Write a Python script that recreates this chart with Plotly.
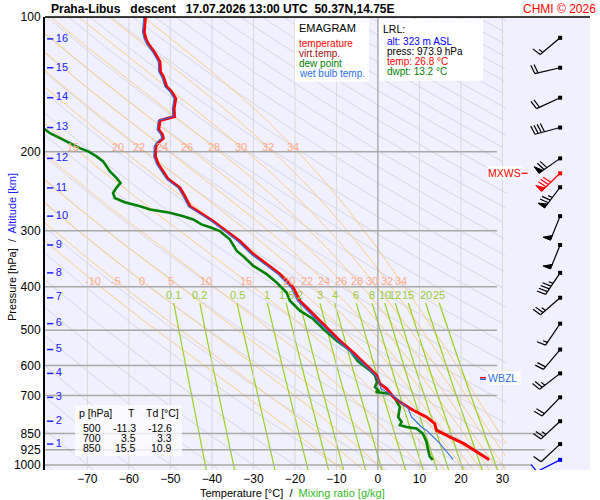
import numpy as np
import plotly.graph_objects as go

# ── layout constants ──────────────────────────────────────────────────────
W, H = 600, 500
ML, MR, MT, MB = 45, 10, 15, 30
T_MIN, T_MAX = -80.2, 51.1
P_BOT, P_TOP = 1026.0, 100.0
PW, PH = W - ML - MR, H - MT - MB
PX_PER_C = PW / (T_MAX - T_MIN)
PX_PER_DEC = PH / (np.log10(P_BOT) - np.log10(P_TOP))

# ── sounding (hPa, °C) ────────────────────────────────────────────────────
t_p = [100, 108, 111.9, 114.8, 119.6, 125.9, 132.5, 135.9, 143.0, 146.8, 152.1,
       160.1, 166.8, 170.2, 178.3, 183.0, 186.7, 190.5, 194.5, 204.7, 213.2,
       221.0, 230.2, 240.7, 251.2, 264.4, 273.6, 285.5, 300.5, 316.2, 338.5,
       356.3, 375.0, 401.7, 429.9, 460.2, 492.8, 527.6, 560.1, 599.5, 631.0,
       658.4, 675.5, 705.1, 723.4, 754.8, 781.1, 807.9, 836.1, 865.2, 894.9,
       934.1, 973.9]
t_c = [-56.0, -56.3, -55.9, -55.3, -53.9, -52.5, -52.4, -51.7, -50.9, -49.7, -48.7,
       -49.1, -49.0, -52.5, -52.8, -51.9, -51.7, -52.9, -53.5, -53.6, -52.9,
       -51.7, -50.5, -47.7, -46.5, -45.3, -42.9, -39.7, -36.5, -33.3, -30.0,
       -26.8, -23.6, -20.4, -18.8, -15.6, -12.4, -9.2, -6.0, -2.7, -0.3,
       0.5, 2.1, 3.7, 5.3, 8.5, 11.7, 13.7, 14.1, 17.3, 20.6,
       23.8, 26.8]

td_p = [172.9, 181.7, 186.4, 191.2, 196.2, 199.5, 204.7, 210.0, 221.0, 228.7,
        234.6, 240.7, 247.0, 253.4, 259.0, 264.4, 268.9, 273.6, 278.3, 283.0,
        290.4, 295.4, 300.5, 313.5, 332.9, 341.5, 359.3, 375.0, 391.4, 412.0,
        429.9, 452.4, 472.1, 496.8, 527.6, 555.3, 587.3, 615.1, 631.0, 652.9,
        669.9, 681.3, 687.2, 692.9, 710.8, 742.0, 781.1, 801.4, 815.2, 822.3,
        829.2, 850.6, 887.6, 926.1, 958.3, 973.9]
td_c = [-82.0, -79.0, -76.6, -74.2, -71.8, -69.8, -67.8, -66.2, -64.6, -63.0,
        -62.0, -63.0, -63.8, -63.4, -61.0, -57.3, -54.9, -50.1, -46.9, -44.5,
        -42.5, -40.1, -38.1, -35.7, -34.0, -32.5, -30.0, -26.8, -24.4, -22.0,
        -21.2, -18.8, -15.6, -13.2, -10.0, -6.7, -4.8, -1.9, -0.7, -0.2,
        -0.7, 0.1, -0.5, 2.9, 4.1, 5.3, 4.9, 5.7, 5.3, 6.9,
        9.3, 10.8, 11.7, 12.1, 12.5, 13.2]

tw_p = [100, 108, 111.9, 114.8, 119.6, 125.9, 132.5, 135.9, 143.0, 146.8, 152.1,
        160.1, 166.8, 170.2, 178.3, 183.0, 186.7, 190.5, 194.5, 204.7, 213.2,
        221.0, 230.2, 240.7, 251.2, 264.4, 273.6, 285.5, 300.5, 316.2, 338.5,
        356.3, 375.0, 401.7, 429.9, 460.2, 492.8, 527.6, 560.1, 599.5, 631.0,
        658.4, 675.5, 692.9, 710.8, 748.2, 781.1, 815.2, 829.2, 836.1, 865.2,
        894.9, 934.1, 971.2]
tw_c = [-56.4, -56.7, -56.3, -55.7, -54.3, -52.9, -52.8, -52.1, -51.3, -50.1, -49.1,
        -49.5, -49.4, -52.9, -53.2, -52.3, -52.1, -53.3, -53.9, -54.0, -53.3,
        -52.1, -50.9, -48.1, -46.9, -45.7, -43.3, -40.1, -36.9, -33.8, -30.5,
        -27.3, -24.1, -20.9, -19.4, -16.2, -12.9, -9.7, -6.5, -3.2, -0.6,
        0.5, 0.7, 2.9, 4.5, 7.3, 8.1, 10.1, 10.9, 11.7, 13.3,
        14.9, 16.6, 18.1]

# ── wind (hPa, deg, kt) ───────────────────────────────────────────────────
wind_p = [111.3, 129.8, 151.4, 176.5, 206.8, 223.3, 239.9, 278.3, 322.8,
          372.5, 423.3, 483.6, 552.4, 624.5, 706.3, 798.5, 898.0, 973.9]
wind_dir = [230, 257, 245, 255, 235, 226, 217, 202, 202,
            214, 229, 214, 220, 232, 224, 227, 227, 243]
wind_kt = [15, 20, 20, 40, 70, 80, 75, 50, 50,
           45, 25, 15, 20, 25, 20, 25, 10, 10]
wind_col = ["black"] * 5 + ["red"] + ["black"] * 11 + ["blue"]

alt_km = [1, 2, 3, 4, 5, 6, 7, 8, 9, 10, 11, 12, 13, 14, 15, 16]
alt_p = [898.0, 798.5, 706.3, 624.5, 552.4, 483.6, 423.3, 372.5, 322.8,
         278.3, 240.7, 206.8, 176.5, 151.4, 129.8, 111.9]

p_levels = [100, 200, 300, 400, 500, 600, 700, 850, 925, 1000]
p_line_end = [28.7, 28.7, 28.7, 28.7, 28.7, 28.7, 28.7, 40.7, 40.2, 37.3]
t_ticks = [-70, -60, -50, -40, -30, -20, -10, 0, 10, 20, 30]

theta_dry = list(range(-80, 330, 10))
theta_w = [-10, -5, 0, 5, 10, 15, 20, 22, 24, 26, 28, 30, 32, 34]
mix_ratio = [0.1, 0.2, 0.5, 1, 1.5, 2, 3, 4, 6, 8, 10, 12, 15, 20, 25]

tab_p = ["500", "700", "850"]
tab_t = ["-11.3", "3.5", "15.5"]
tab_td = ["-12.6", "3.3", "10.9"]

# ── thermodynamic reference lines ─────────────────────────────────────────
RD, CP, LV, EPS = 287.04, 1005.7, 2.501e6, 0.622
T_CLIP = 31.0
pp = np.geomspace(1030, 100, 220)


def es(tc):
    return 6.112 * np.exp(17.67 * tc / (tc + 243.5))


def moist(tw):
    def f(T, p):
        e = es(T - 273.15)
        rs = EPS * e / (p - e)
        return (RD * T + LV * rs) / (CP + LV * LV * rs * EPS / (RD * T * T))
    out = np.empty_like(pp)
    lnp = np.log(pp)
    i0 = np.argmin(np.abs(pp - 1000))
    out[i0] = tw + 273.15
    for rng in (range(i0, len(pp) - 1), range(i0, 0, -1)):
        for i in rng:
            j = i + 1 if rng.step == 1 else i - 1
            T, h = out[i], lnp[j] - lnp[i]
            k1 = f(T, pp[i])
            k2 = f(T + h * k1 / 2, np.exp(lnp[i] + h / 2))
            k3 = f(T + h * k2 / 2, np.exp(lnp[i] + h / 2))
            k4 = f(T + h * k3, pp[j])
            out[j] = T + h * (k1 + 2 * k2 + 2 * k3 + k4) / 6
    return out - 273.15


def join(lines):
    xs, ys = [], []
    for x, y in lines:
        x = np.where(x <= T_CLIP, x, np.nan)
        xs += list(x) + [None]
        ys += list(y) + [None]
    return xs, ys


fig = go.Figure()

dry = [((th + 273.15) * (pp / 1000) ** (RD / CP) - 273.15, pp) for th in theta_dry]
x, y = join(dry)
fig.add_trace(go.Scatter(x=x, y=y, mode="lines", line=dict(color="#D8D8E0", width=1),
                         hoverinfo="skip"))

moist_lines = {tw: moist(tw) for tw in theta_w}
x, y = join([(v, pp) for v in moist_lines.values()])
fig.add_trace(go.Scatter(x=x, y=y, mode="lines", line=dict(color="#FFCC88", width=1),
                         hoverinfo="skip"))

pm = np.geomspace(1030, 435, 40)
mix_lines = []
for w in mix_ratio:
    e = (w / 1000) * pm / (EPS + w / 1000)
    a = np.log(e / 6.112)
    mix_lines.append((243.5 * a / (17.67 - a), pm))
x, y = join(mix_lines)
fig.add_trace(go.Scatter(x=x, y=y, mode="lines", line=dict(color="#99D022", width=1.2),
                         hoverinfo="skip"))

# isotherms
xs, ys = [], []
for t in t_ticks:
    if t != 0:
        xs += [t, t, None]
        ys += [P_BOT, P_TOP, None]
fig.add_trace(go.Scatter(x=xs, y=ys, mode="lines", line=dict(color="#D8D8D8", width=1)))
fig.add_trace(go.Scatter(x=[0, 0], y=[P_BOT, P_TOP], mode="lines",
                         line=dict(color="#A0A0A0", width=1.2)))

# isobars
xs, ys = [], []
for p, te in zip(p_levels, p_line_end):
    xs += [T_MIN, te, None]
    ys += [p, p, None]
fig.add_trace(go.Scatter(x=xs, y=ys, mode="lines", line=dict(color="#A8A8A8", width=1.5)))

# profiles
fig.add_trace(go.Scatter(x=td_c, y=td_p, mode="lines", line=dict(color="#008000", width=2.6)))
fig.add_trace(go.Scatter(x=t_c, y=t_p, mode="lines", line=dict(color="#FF0000", width=3)))
fig.add_trace(go.Scatter(x=tw_c, y=tw_p, mode="lines", line=dict(color="#2A6FE8", width=1.1)))

# ── wind barbs ────────────────────────────────────────────────────────────
T_BARB = 43.9


def to_data(p0, dx, dy):
    return T_BARB + dx / PX_PER_C, p0 * 10 ** (-dy / PX_PER_DEC)


for p0, d, s, col in zip(wind_p, wind_dir, wind_kt, wind_col):
    ux, uy = np.sin(np.radians(d)), np.cos(np.radians(d))
    nx, ny = uy, -ux
    L = 26
    segs, polys = [[(0, 0), (L * ux, L * uy)]], []
    pos = L
    n50, rem = divmod(s, 50)
    n10, n5 = rem // 10, (rem % 10) >= 5
    for _ in range(n50):
        polys.append([(pos * ux, pos * uy), (pos * ux + 8 * nx, pos * uy + 8 * ny),
                      ((pos - 5) * ux, (pos - 5) * uy), (pos * ux, pos * uy)])
        pos -= 6.5
    for _ in range(n10):
        segs.append([(pos * ux, pos * uy),
                     (pos * ux + 9 * nx + 2 * ux, pos * uy + 9 * ny + 2 * uy)])
        pos -= 3.3
    if n5:
        if pos == L:
            pos -= 3.3
        segs.append([(pos * ux, pos * uy),
                     (pos * ux + 4.5 * nx + ux, pos * uy + 4.5 * ny + uy)])
    xs, ys = [], []
    for seg in segs:
        for dx, dy in seg:
            a, b = to_data(p0, dx, dy)
            xs.append(a)
            ys.append(b)
        xs.append(None)
        ys.append(None)
    fig.add_trace(go.Scatter(x=xs, y=ys, mode="lines", line=dict(color=col, width=1.2)))
    if polys:
        xs, ys = [], []
        for poly in polys:
            for dx, dy in poly:
                a, b = to_data(p0, dx, dy)
                xs.append(a)
                ys.append(b)
            xs.append(None)
            ys.append(None)
        fig.add_trace(go.Scatter(x=xs, y=ys, mode="lines", fill="toself", fillcolor=col,
                                 line=dict(color=col, width=1)))
    fig.add_trace(go.Scatter(x=[T_BARB], y=[p0], mode="markers",
                             marker=dict(symbol="square", size=4, color=col)))

# altitude ticks
xs, ys = [], []
for p in alt_p:
    xs += [-79.7, -78.2, None]
    ys += [p, p, None]
fig.add_trace(go.Scatter(x=xs, y=ys, mode="lines", line=dict(color="#2020FF", width=1.5)))
fig.add_trace(go.Scatter(x=[-77.6] * len(alt_p), y=alt_p, mode="text",
                         text=[str(k) for k in alt_km], textposition="middle right",
                         textfont=dict(color="#2020FF", size=11, family="Liberation Sans")))

# WBZL / MXWS markers
P_WBZL = 641
fig.add_trace(go.Scatter(x=[24.6, 26.0], y=[P_WBZL * 0.996] * 2, mode="lines",
                         line=dict(color="red", width=1.5)))
fig.add_trace(go.Scatter(x=[24.6, 26.0], y=[P_WBZL * 1.004] * 2, mode="lines",
                         line=dict(color="#2A6FE8", width=1.5)))
fig.add_trace(go.Scatter(x=[34.1, 36.1], y=[wind_p[5]] * 2, mode="lines",
                         line=dict(color="red", width=1.2)))


# ── annotations ───────────────────────────────────────────────────────────
def px(x):
    return (x - ML) / PW


def py(y):
    return (H - MB - y) / PH


ann = []
FONT = "Liberation Sans"


def txt(x, y, s, color="black", size=10, anchor="left", bg=None, bold=False):
    if bold:
        s = "<b>" + s + "</b>"
    ann.append(dict(x=px(x), y=py(y), xref="paper", yref="paper", text=s, showarrow=False,
                    xanchor=anchor, yanchor="middle", bgcolor=bg, borderpad=0,
                    font=dict(color=color, size=size, family=FONT)))


# moist adiabat labels
for p_lab in (388, 195):
    for tw, v in moist_lines.items():
        t = float(np.interp(np.log(p_lab), np.log(pp[::-1]), v[::-1]))
        if -78 < t < 28:
            ann.append(dict(x=t, y=np.log10(p_lab), xref="x", yref="y", text=str(tw),
                            showarrow=False, font=dict(color="#FFAA88", size=11, family=FONT)))
# mixing ratio labels
for w, (v, pv) in zip(mix_ratio, mix_lines):
    ann.append(dict(x=float(v[-1]), y=np.log10(417), xref="x", yref="y",
                    text=("%g" % w), showarrow=False,
                    font=dict(color="#99CC33", size=11, family=FONT)))

txt(50, 7, "Praha-Libus   descent   17.07.2026 13:00 UTC  50.37N,14.75E", size=12, bold=True)
txt(597, 7, "CHMI © 2026", color="red", size=12, anchor="right")

shapes = [
    dict(type="rect", xref="paper", yref="paper", x0=px(295), x1=px(369), y0=py(80), y1=py(17),
         fillcolor="white", line=dict(width=0), layer="above"),
    dict(type="rect", xref="paper", yref="paper", x0=px(379), x1=px(483), y0=py(79), y1=py(17),
         fillcolor="white", line=dict(width=0), layer="above"),
    dict(type="rect", xref="paper", yref="paper", x0=px(75), x1=px(182), y0=py(456), y1=py(405),
         fillcolor="rgba(255,255,255,0.75)", line=dict(width=0), layer="above"),
    dict(type="line", xref="paper", yref="paper", x0=0, x1=1, y0=1, y1=1,
         line=dict(color="black", width=1.5)),
]

txt(298, 26, "EMAGRAM", size=11)
txt(298, 42, "temperature", color="#FF0000")
txt(298, 52, "virt.temp.", color="#A01010")
txt(298, 62, "dew point", color="#008000")
txt(298, 72, "wet bulb temp.", color="#2A6FE8")

txt(382, 27, "LRL:", size=10.5)
txt(386, 40, "alt: 323 m ASL", color="#0000FF")
txt(386, 50, "press: 973.9 hPa")
txt(386, 60, "temp: 26.8 °C", color="#FF0000")
txt(386, 70, "dwpt: 13.2 °C", color="#008000")

txt(78, 413, "p [hPa]", size=10.5)
txt(127, 413, "T", size=10.5)
txt(145, 413, "Td [°C]", size=10.5)
for i, (a, b, c) in enumerate(zip(tab_p, tab_t, tab_td)):
    yy = 428 + 10 * i
    txt(102, yy, a, size=10.5, anchor="right")
    txt(137, yy, b, size=10.5, anchor="right")
    txt(173, yy, c, size=10.5, anchor="right")

txt(487, 172, "MXWS", color="red", size=10.5, bg="white")
txt(487, 378, "WBZL ", color="#2A6FE8", size=10.5, bg="white")

ann.append(dict(x=px(292), y=py(493), xref="paper", yref="paper", showarrow=False,
                xanchor="center", yanchor="middle",
                text="Temperature [°C]  /  <span style='color:#33BB22'>Mixing ratio [g/kg]</span>",
                font=dict(size=11, family=FONT, color="black")))
ann.append(dict(x=px(12), y=py(246), xref="paper", yref="paper", showarrow=False,
                xanchor="center", yanchor="middle", textangle=-90,
                text="Pressure [hPa]  /  <span style='color:#2020FF'>Altitude [km]</span>",
                font=dict(size=11, family=FONT, color="black")))

fig.update_layout(
    width=W, height=H,
    margin=dict(l=ML, r=MR, t=MT, b=MB),
    paper_bgcolor="white", plot_bgcolor="#F0F0FF",
    showlegend=False,
    annotations=ann, shapes=shapes,
    xaxis=dict(range=[T_MIN, T_MAX], tickvals=t_ticks, showgrid=False, zeroline=False,
               ticks="", tickfont=dict(size=12, family=FONT, color="black"),
               fixedrange=True),
    yaxis=dict(type="log", range=[np.log10(P_BOT), np.log10(P_TOP)], tickvals=p_levels,
               ticktext=[str(p) for p in p_levels], showgrid=False, zeroline=False,
               showline=True, linecolor="black", linewidth=2, ticks="",
               tickfont=dict(size=12, family=FONT, color="black"), fixedrange=True),
    hovermode=False,
)

# the page body has a default 8px margin; drop it so the figure sits at 0,0
fig.write_html("out.html", config={"displayModeBar": False},
               post_script="document.body.style.margin='0';")
